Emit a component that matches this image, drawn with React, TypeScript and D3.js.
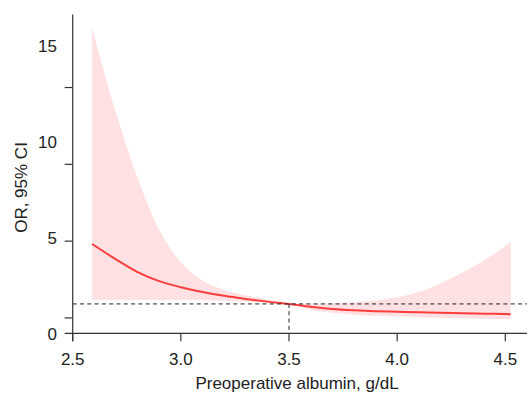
import * as d3 from "d3";

// albumin (g/dL) grid and OR estimates
const albumin = [2.59, 2.7, 2.8, 2.9, 3.0, 3.1, 3.2, 3.3, 3.4, 3.5, 3.6, 3.7, 3.8, 3.9, 4.0, 4.1, 4.2, 4.3, 4.4, 4.5, 4.525];
const orEst = [4.65, 3.85, 3.19, 2.72, 2.4, 2.15, 1.95, 1.79, 1.65, 1.53, 1.38, 1.27, 1.2, 1.15, 1.12, 1.09, 1.07, 1.04, 1.02, 1.0, 0.99];
const ciLower = [1.73, 1.73, 1.73, 1.73, 1.73, 1.72, 1.7, 1.66, 1.6, 1.52, 1.23, 1.07, 0.97, 0.91, 0.87, 0.84, 0.81, 0.79, 0.76, 0.74, 0.74];
const ciUpper = [15.9, 11.5, 8.1, 5.39, 3.7, 2.75, 2.26, 1.98, 1.75, 1.54, 1.54, 1.57, 1.62, 1.71, 1.88, 2.15, 2.6, 3.15, 3.78, 4.55, 4.75];

const refAlbumin = 3.5;
const refOR = 1.53;

const xTicks = [2.5, 3.0, 3.5, 4.0, 4.5];
const yLabels = [0, 5, 10, 15];
const yTickMarks = [0.8, 4.8, 8.8, 12.8];

const W = 528;
const H = 394;
const font = "'Liberation Sans', Arial, Helvetica, sans-serif";

export default function App() {
  const x = d3.scaleLinear().domain([2.5, 4.5]).range([72.7, 505.3]);
  const y = d3.scaleLinear().domain([0, 15]).range([333.3, 45.3]);

  const rows = albumin.map((a, i) => ({ a, est: orEst[i], lo: ciLower[i], hi: ciUpper[i] }));

  const band = d3
    .area<(typeof rows)[0]>()
    .x((d) => x(d.a))
    .y0((d) => y(d.lo))
    .y1((d) => y(d.hi))
    .curve(d3.curveCatmullRom.alpha(0.5))(rows);

  const line = d3
    .line<(typeof rows)[0]>()
    .x((d) => x(d.a))
    .y((d) => y(d.est))
    .curve(d3.curveCatmullRom.alpha(0.5))(rows);

  const x0 = x(2.5);
  const y0 = y(0);
  const xEnd = x(4.6);

  return (
    <svg
      width={W}
      height={H}
      style={{ position: "absolute", left: 0, top: 0 }}
      fontFamily={font}
    >
      <rect width={W} height={H} fill="#fff" />
      <path d={band ?? ""} fill="#ffe1e3" />
      <path d={line ?? ""} fill="none" stroke="#ff3d3d" strokeWidth={2} />

      {/* reference lines */}
      <line x1={x0} x2={xEnd} y1={y(refOR)} y2={y(refOR)} stroke="#222" strokeWidth={1} strokeDasharray="4,3.3" />
      <line x1={x(refAlbumin)} x2={x(refAlbumin)} y1={y(refOR)} y2={y0} stroke="#222" strokeWidth={1} strokeDasharray="4,3.3" />

      {/* axes */}
      <line x1={x0} x2={x0} y1={y(16.6)} y2={y0 + 8} stroke="#333" strokeWidth={1.2} />
      <line x1={x0 - 8} x2={xEnd} y1={y0} y2={y0} stroke="#333" strokeWidth={1.2} />
      {xTicks.map((t) => (
        <g key={t}>
          <line x1={x(t)} x2={x(t)} y1={y0} y2={y0 + 8} stroke="#333" strokeWidth={1.2} />
          <text x={x(t)} y={365} textAnchor="middle" fontSize={17} fill="#222">
            {d3.format(".1f")(t)}
          </text>
        </g>
      ))}
      {yTickMarks.map((t) => (
        <line key={t} x1={x0 - 8} x2={x0} y1={y(t)} y2={y(t)} stroke="#333" strokeWidth={1.2} />
      ))}
      {yLabels.map((t) => (
        <text key={t} x={57} y={y(t) + 6.2} textAnchor="end" fontSize={17} fill="#222">
          {t}
        </text>
      ))}

      <text x={297} y={389} textAnchor="middle" fontSize={17} fill="#222">
        Preoperative albumin, g/dL
      </text>
      <text
        transform="translate(27,187.5) rotate(-90)"
        textAnchor="middle"
        fontSize={17}
        fill="#222"
      >
        OR, 95% CI
      </text>
    </svg>
  );
}
